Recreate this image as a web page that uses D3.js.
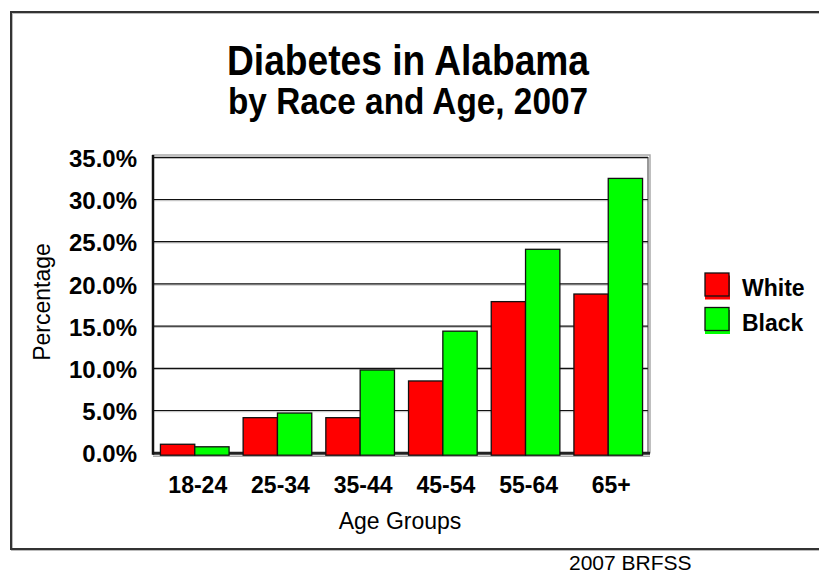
<!DOCTYPE html>
<html>
<head>
<meta charset="utf-8">
<script src="https://cdn.jsdelivr.net/npm/d3@7"></script>
<style>
  body { margin: 0; background: #fff; }
  text { font-family: Arial, "Liberation Sans", sans-serif; fill: #000; }
</style>
</head>
<body>
<div id="chart"></div>
<script>
// data
const ageGroups = ['18-24', '25-34', '35-44', '45-54', '55-64', '65+']
const white = [1.0, 4.15, 4.15, 8.5, 17.9, 18.8]
const black = [0.7, 4.7, 9.8, 14.4, 24.1, 32.5]
const yTicks = [0, 5, 10, 15, 20, 25, 30, 35]
const seriesNames = ['White', 'Black']
const seriesColors = ['#ff0000', '#00ff00']

const svgWidth = 819
const svgHeight = 573

const plot = { left: 153, right: 650, top: 157.3, bottom: 452.7 }

const svg = d3.select('#chart')
    .append('svg')
    .attr('width', svgWidth)
    .attr('height', svgHeight)

// outer frame (open on the right side)
svg.append('path')
    .attr('d', 'M 830 13 H 12 V 550 H 830')
    .attr('fill', 'none')
    .attr('stroke', '#bbb')
    .attr('stroke-width', 2)
svg.append('path')
    .attr('d', 'M 830 12 H 11 V 549 H 830')
    .attr('fill', 'none')
    .attr('stroke', '#333')
    .attr('stroke-width', 2)

// titles
svg.append('text')
    .attr('x', 408).attr('y', 75)
    .attr('text-anchor', 'middle')
    .attr('font-size', 42).attr('font-weight', 'bold')
    .attr('textLength', 362).attr('lengthAdjust', 'spacingAndGlyphs')
    .text('Diabetes in Alabama')
svg.append('text')
    .attr('x', 408).attr('y', 114)
    .attr('text-anchor', 'middle')
    .attr('font-size', 37).attr('font-weight', 'bold')
    .attr('textLength', 360).attr('lengthAdjust', 'spacingAndGlyphs')
    .text('by Race and Age, 2007')

// scales
const xScale = d3.scaleBand()
    .domain(ageGroups)
    .range([plot.left, plot.right])
    .paddingInner(0.17)
    .paddingOuter(0.09)

const xSub = d3.scaleBand()
    .domain(seriesNames)
    .range([0, xScale.bandwidth()])

const yScale = d3.scaleLinear()
    .domain([0, 35])
    .range([plot.bottom, plot.top])

// plot frame: top and right in grey double line
svg.append('rect')
    .attr('x', plot.left).attr('y', 155)
    .attr('width', plot.right - plot.left).attr('height', plot.bottom - 155)
    .attr('fill', 'none').attr('stroke', '#aaa').attr('stroke-width', 1.5)

// gridlines
const grid = svg.append('g')
grid.selectAll('.gshadow')
    .data(yTicks.filter(d => d > 0))
    .join('line')
    .attr('class', 'gshadow')
    .attr('x1', plot.left).attr('x2', plot.right - 2)
    .attr('y1', d => yScale(d) + 1.2).attr('y2', d => yScale(d) + 1.2)
    .attr('stroke', '#bbb').attr('stroke-width', 1)
grid.selectAll('.gline')
    .data(yTicks.filter(d => d > 0))
    .join('line')
    .attr('class', 'gline')
    .attr('x1', plot.left).attr('x2', plot.right - 2)
    .attr('y1', d => yScale(d)).attr('y2', d => yScale(d))
    .attr('stroke', '#111').attr('stroke-width', 1.2)

// right inner edge
svg.append('line')
    .attr('x1', plot.right - 2).attr('x2', plot.right - 2)
    .attr('y1', 157).attr('y2', plot.bottom)
    .attr('stroke', '#333').attr('stroke-width', 1)

// floor
svg.append('line')
    .attr('x1', plot.left).attr('x2', plot.right)
    .attr('y1', plot.bottom + 3.5).attr('y2', plot.bottom + 3.5)
    .attr('stroke', '#aaa').attr('stroke-width', 1.5)
svg.append('line')
    .attr('x1', plot.left).attr('x2', plot.right)
    .attr('y1', yScale(0) + 0.5).attr('y2', yScale(0) + 0.5)
    .attr('stroke', '#222').attr('stroke-width', 3)

// left axis line
svg.append('line')
    .attr('x1', plot.left).attr('x2', plot.left)
    .attr('y1', 155).attr('y2', plot.bottom + 2)
    .attr('stroke', '#111').attr('stroke-width', 2.5)

// bars
const rows = ageGroups.map((g, i) => ({ group: g, values: [white[i], black[i]] }))

const groups = svg.selectAll('.group')
    .data(rows)
    .join('g')
    .attr('class', 'group')
    .attr('transform', d => 'translate(' + xScale(d.group) + ',0)')

groups.selectAll('rect')
    .data(d => d.values.map((v, j) => ({ name: seriesNames[j], value: v, color: seriesColors[j] })))
    .join('rect')
    .attr('x', d => xSub(d.name))
    .attr('y', d => yScale(d.value))
    .attr('width', xSub.bandwidth())
    .attr('height', d => yScale(0) + 2.5 - yScale(d.value))
    .attr('fill', d => d.color)
    .attr('stroke', '#111')
    .attr('stroke-width', 1.3)

// y axis labels
const yAxis = d3.axisLeft(yScale)
    .tickValues(yTicks)
    .tickSize(0)
    .tickPadding(16)
    .tickFormat(d => d.toFixed(1) + '%')

const yG = svg.append('g')
    .attr('transform', 'translate(' + plot.left + ',0)')
    .call(yAxis)
yG.select('.domain').remove()
yG.selectAll('text')
    .attr('font-size', 24).attr('font-weight', 'bold')
    .attr('font-family', 'Arial, "Liberation Sans", sans-serif')
    .attr('fill', '#000')
    .attr('dy', '0.38em')

// x axis labels
const xAxis = d3.axisBottom(xScale).tickSize(0).tickPadding(24)
const xG = svg.append('g')
    .attr('transform', 'translate(3,' + plot.bottom + ')')
    .call(xAxis)
xG.select('.domain').remove()
xG.selectAll('text')
    .attr('font-size', 23).attr('font-weight', 'bold')
    .attr('font-family', 'Arial, "Liberation Sans", sans-serif')
    .attr('fill', '#000')

// axis titles
svg.append('text')
    .attr('transform', 'translate(50,302) rotate(-90)')
    .attr('text-anchor', 'middle')
    .attr('font-size', 23)
    .text('Percentage')
svg.append('text')
    .attr('x', 400).attr('y', 529)
    .attr('text-anchor', 'middle')
    .attr('font-size', 23)
    .text('Age Groups')

// legend
const legend = svg.selectAll('.legend')
    .data(seriesNames)
    .join('g')
    .attr('class', 'legend')
    .attr('transform', (d, i) => 'translate(705,' + (273 + i * 34.5) + ')')
legend.append('rect')
    .attr('x', 0).attr('y', 2.5).attr('width', 25).attr('height', 24)
    .attr('fill', (d, i) => seriesColors[i])
legend.append('rect')
    .attr('x', 0).attr('y', 0).attr('width', 24).attr('height', 23)
    .attr('fill', (d, i) => seriesColors[i])
    .attr('stroke', '#111').attr('stroke-width', 1.3)
legend.append('text')
    .attr('x', 37).attr('y', 23)
    .attr('font-size', 23).attr('font-weight', 'bold')
    .text(d => d)

// source note
svg.append('text')
    .attr('x', 569).attr('y', 570)
    .attr('font-size', 21)
    .text('2007 BRFSS')
</script>
</body>
</html>
